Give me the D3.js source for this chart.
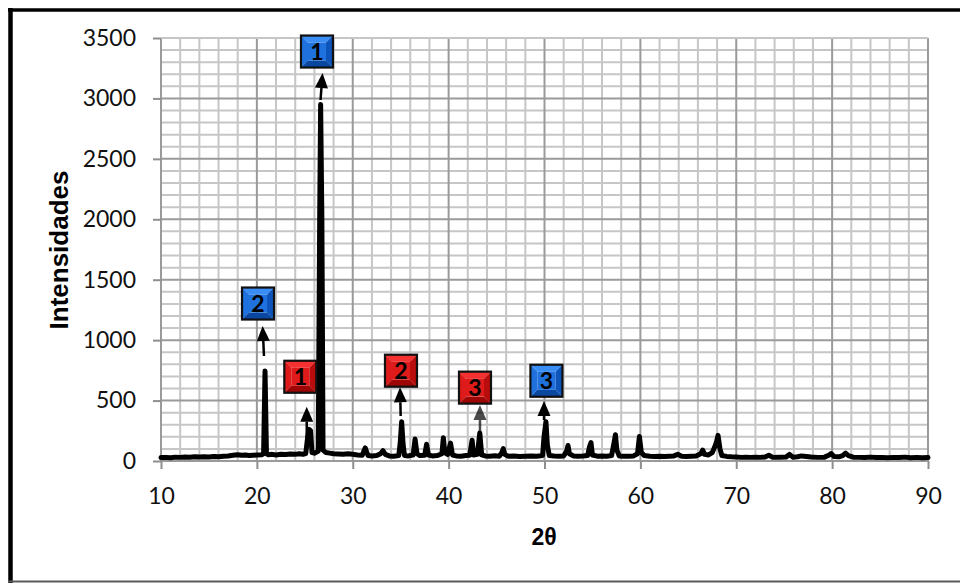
<!DOCTYPE html>
<html>
<head>
<meta charset="utf-8">
<script src="https://cdnjs.cloudflare.com/ajax/libs/d3/7.8.5/d3.min.js"></script>
<style>
  html, body { margin: 0; padding: 0; background: #fff; }
  svg { display: block; }
</style>
</head>
<body>
<svg id="chart" width="960" height="583"></svg>
<script>
// Diffractogram: 2θ positions and measured intensities
const twoTheta = [
  10.0,10.5,11.0,11.5,12.0,12.5,13.0,13.5,14.0,14.5,15.0,15.5,16.0,16.5,17.0,17.5,18.0,18.4,18.8,19.2,19.6,20.0,
  20.5,20.7,20.85,21.0,21.2,21.6,22.0,22.5,23.0,23.5,24.0,24.4,24.8,25.1,25.3,25.45,25.6,25.75,26.0,26.4,
  26.55,26.65,26.78,26.9,27.2,27.6,28.0,28.5,29.0,29.5,30.0,30.5,31.0,31.15,31.3,31.45,31.6,32.0,32.5,32.9,
  33.15,33.4,33.8,34.3,34.8,34.95,35.1,35.25,35.4,35.8,36.3,36.5,36.7,37.0,37.5,37.7,37.9,38.3,38.8,39.3,
  39.45,39.6,39.9,40.2,40.4,40.8,41.3,41.8,42.2,42.45,42.6,43.0,43.25,43.45,43.8,44.3,44.8,45.3,45.55,45.7,
  45.85,46.2,46.8,47.4,48.0,48.6,49.2,49.8,49.95,50.15,50.3,50.5,51.0,51.5,52.0,52.3,52.45,52.6,53.0,53.5,
  54.0,54.5,54.7,54.85,55.0,55.5,56.0,56.5,57.0,57.25,57.4,57.55,57.8,58.3,58.8,59.3,59.7,59.9,60.1,60.4,
  61.0,61.5,62.0,62.5,63.0,63.5,63.9,64.3,64.8,65.3,65.8,66.3,66.5,66.7,67.1,67.5,67.75,67.95,68.1,68.3,
  68.5,69.0,69.5,70.0,70.5,71.0,71.5,72.0,72.5,73.0,73.4,73.8,74.5,75.2,75.55,75.9,76.4,76.8,77.3,77.8,
  78.5,79.2,79.7,79.9,80.2,80.7,81.1,81.4,81.7,82.2,82.8,83.4,84.0,84.6,85.2,85.8,86.4,87.0,87.6,88.2,
  88.8,89.4,90.0
];
const intensity = [
  28,30,27,32,30,33,31,35,33,36,34,38,36,40,42,48,52,47,50,45,48,50,
  52,60,745,60,52,55,50,56,53,58,55,60,56,62,200,262,250,70,65,80,
  2000,2950,2000,90,70,65,60,58,55,60,55,50,48,80,108,75,45,42,45,60,
  85,55,42,40,45,150,325,140,45,42,50,182,60,45,48,138,50,42,45,60,
  192,70,55,148,50,42,40,45,48,172,50,55,232,50,42,40,43,40,70,102,
  55,40,42,38,40,42,40,45,200,325,130,45,42,40,42,80,128,60,42,40,
  42,45,120,152,50,40,42,40,45,150,218,90,42,40,40,42,60,202,70,45,
  40,38,40,38,40,42,55,40,38,40,42,60,90,55,50,70,115,160,212,100,
  45,38,35,33,30,32,30,32,30,33,48,30,32,33,55,32,35,42,38,33,
  30,32,50,62,38,35,45,65,45,32,30,28,32,28,30,27,30,28,32,27,
  30,26,28
];

// Axis ticks
const xTicks = [10, 20, 30, 40, 50, 60, 70, 80, 90];
const yTicks = [0, 500, 1000, 1500, 2000, 2500, 3000, 3500];

// Phase markers: numbered boxes and the arrows pointing at their reflections
const markerLabels = ["1", "2", "1", "2", "3", "3"];
const markerPhase = ["azul", "azul", "rojo", "rojo", "rojo", "azul"];
const markerTheta = [26.27, 20.12, 24.53, 35.03, 42.75, 50.2];
const markerInt = [3388, 1303, 697, 747, 607, 664];
const arrowTipTheta = [26.85, 20.6, 25.2, 34.93, 43.27, 49.95];
const arrowTipInt = [3210, 1117, 449, 610, 463, 496];
const arrowTailTheta = [26.64, 20.74, 25.2, 35.0, 43.27, 49.95];
const arrowTailInt = [2987, 869, 200, 372, 240, 339];

const svg = d3.select("#chart");
const W = 960, H = 583;
const plot = { left: 161, right: 928, top: 38, bottom: 461 };

const x = d3.scaleLinear().domain([10, 90]).range([plot.left, plot.right]);
const y = d3.scaleLinear().domain([0, 3500]).range([plot.bottom, plot.top]);

// Outer frame
svg.append("rect").attr("x", 0).attr("y", 0).attr("width", W).attr("height", H).attr("fill", "#fff");
svg.append("line").attr("x1", 8).attr("x2", W).attr("y1", 10).attr("y2", 10)
  .attr("stroke", "#000").attr("stroke-width", 3.5);
svg.append("line").attr("x1", 10.5).attr("x2", 10.5).attr("y1", 8).attr("y2", 583)
  .attr("stroke", "#000").attr("stroke-width", 4.5);
svg.append("line").attr("x1", 8).attr("x2", W).attr("y1", 581.5).attr("y2", 581.5)
  .attr("stroke", "#5a5a5a").attr("stroke-width", 2);

// Grid: minor every 2° / 100 counts, major every 10° / 500 counts
const grid = svg.append("g");
const minorX = d3.range(10, 90.01, 2).filter(v => v % 10 !== 0);
const minorY = d3.range(0, 3500.01, 100).filter(v => v % 500 !== 0);
grid.selectAll(".mx").data(minorX).join("line")
  .attr("x1", d => x(d)).attr("x2", d => x(d)).attr("y1", plot.top).attr("y2", plot.bottom)
  .attr("stroke", "#c6c6c6").attr("stroke-width", 2);
grid.selectAll(".my").data(minorY).join("line")
  .attr("x1", plot.left).attr("x2", plot.right).attr("y1", d => y(d)).attr("y2", d => y(d))
  .attr("stroke", "#c6c6c6").attr("stroke-width", 2);
grid.selectAll(".Mx").data(xTicks).join("line")
  .attr("x1", d => x(d)).attr("x2", d => x(d)).attr("y1", plot.top).attr("y2", plot.bottom)
  .attr("stroke", "#9a9a9a").attr("stroke-width", 2);
grid.selectAll(".My").data(yTicks).join("line")
  .attr("x1", plot.left).attr("x2", plot.right).attr("y1", d => y(d)).attr("y2", d => y(d))
  .attr("stroke", d => d === 3500 ? "#c6c6c6" : "#9a9a9a").attr("stroke-width", 2);

// Axes
const tickFont = "Lato, 'Open Sans', sans-serif";
const yAxis = svg.append("g").attr("transform", `translate(${plot.left},0)`)
  .call(d3.axisLeft(y).tickValues(yTicks).tickSize(8).tickPadding(17).tickFormat(d3.format("d")));
const xAxis = svg.append("g").attr("transform", `translate(0,${plot.bottom})`)
  .call(d3.axisBottom(x).tickValues(xTicks).tickSize(8).tickPadding(19).tickFormat(d3.format("d")));
[yAxis, xAxis].forEach(a => {
  a.select(".domain").remove();
  a.selectAll(".tick line").attr("stroke", "#8f8f8f").attr("stroke-width", 2);
  a.selectAll(".tick text").attr("fill", "#111").style("font-family", tickFont).style("font-size", "23px");
});

// Axis titles
svg.append("text")
  .attr("transform", "translate(68,250) rotate(-90)")
  .attr("text-anchor", "middle")
  .style("font-family", "'Liberation Sans', Arial, sans-serif")
  .style("font-weight", "bold").style("font-size", "26px").attr("fill", "#000")
  .text("Intensidades");
svg.append("text")
  .attr("x", 544).attr("y", 545)
  .attr("text-anchor", "middle")
  .style("font-family", "'Liberation Sans', Arial, sans-serif")
  .style("font-weight", "bold").style("font-size", "23px").attr("fill", "#000")
  .text("2θ");

// Diffraction pattern
const points = twoTheta.map((t, i) => [t, intensity[i]]);
const line = d3.line().x(d => x(d[0])).y(d => y(d[1]));
svg.append("path").datum(points)
  .attr("d", line)
  .attr("fill", "none").attr("stroke", "#000").attr("stroke-width", 5)
  .attr("stroke-linejoin", "round").attr("stroke-linecap", "round");

// Arrows
const arrows = svg.append("g");
markerLabels.forEach((_, i) => {
  const tx = x(arrowTipTheta[i]), ty = y(arrowTipInt[i]);
  const bx = x(arrowTailTheta[i]), by = y(arrowTailInt[i]);
  const ang = Math.atan2(ty - by, tx - bx);
  const headLen = 15, headHalf = 6.5;
  const hx = tx - headLen * Math.cos(ang), hy = ty - headLen * Math.sin(ang);
  const px = -Math.sin(ang), py = Math.cos(ang);
  const g = arrows.append("g").attr("opacity", i === 4 ? 0.7 : 1);
  g.append("line").attr("x1", bx).attr("y1", by).attr("x2", hx).attr("y2", hy)
    .attr("stroke", "#000").attr("stroke-width", 2.5);
  g.append("path")
    .attr("d", `M${tx},${ty}L${hx + px * headHalf},${hy + py * headHalf}L${hx - px * headHalf},${hy - py * headHalf}Z`)
    .attr("fill", "#000");
});

// Numbered phase boxes with bevelled faces
const shades = {
  azul: { top: "#3a8df5", left: "#1f72de", right: "#0d55bb", bottom: "#0a47a0" },
  rojo: { top: "#f43030", left: "#de1a1a", right: "#b90c0c", bottom: "#9e0606" }
};
const box = 32, bev = 7;
markerLabels.forEach((lab, i) => {
  const cx = x(markerTheta[i]), cy = y(markerInt[i]);
  const s = shades[markerPhase[i]];
  const x0 = cx - box / 2, y0 = cy - box / 2, x1 = cx + box / 2, y1 = cy + box / 2;
  const g = svg.append("g");
  const ix0 = x0 + bev, iy0 = y0 + bev, ix1 = x1 - bev, iy1 = y1 - bev;
  g.append("path").attr("d", `M${x0},${y0}L${x1},${y0}L${ix1},${iy0}L${ix0},${iy0}Z`).attr("fill", s.top);
  g.append("path").attr("d", `M${x0},${y0}L${ix0},${iy0}L${ix0},${iy1}L${x0},${y1}Z`).attr("fill", s.left);
  g.append("path").attr("d", `M${x1},${y0}L${x1},${y1}L${ix1},${iy1}L${ix1},${iy0}Z`).attr("fill", s.right);
  g.append("path").attr("d", `M${x0},${y1}L${ix0},${iy1}L${ix1},${iy1}L${x1},${y1}Z`).attr("fill", s.bottom);
  g.append("rect").attr("x", ix0).attr("y", iy0).attr("width", ix1 - ix0).attr("height", iy1 - iy0).attr("fill", s.left);
  g.append("rect").attr("x", x0).attr("y", y0).attr("width", box).attr("height", box)
    .attr("fill", "none").attr("stroke", "#111").attr("stroke-width", 2.2);
  g.append("text").attr("x", cx).attr("y", cy + 8)
    .attr("text-anchor", "middle")
    .style("font-family", "Lato, 'Open Sans', sans-serif").style("font-weight", "bold").style("font-size", "23px")
    .attr("fill", "#000").text(lab);
});
</script>
</body>
</html>
